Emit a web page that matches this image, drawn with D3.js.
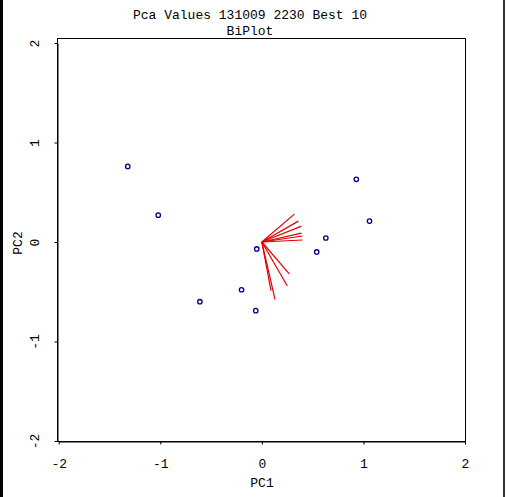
<!DOCTYPE html>
<html><head><meta charset="utf-8">
<script src="https://cdn.jsdelivr.net/npm/d3@7"></script>
<style>html,body{margin:0;padding:0;background:#fff;}svg{display:block;}</style>
</head><body>
<script>
// Scores (observations)
const pc1Scores = [-1.32, -1.02, -0.61, -0.20, -0.05, -0.06, 0.54, 0.63, 0.93, 1.06];
const pc2Scores = [0.76, 0.27, -0.60, -0.48, -0.07, -0.69, -0.10, 0.04, 0.63, 0.21];
// Loadings (variable arrows)
const loadPC1 = [0.32, 0.36, 0.39, 0.39, 0.40, 0.40, 0.27, 0.25, 0.09, 0.13];
const loadPC2 = [0.28, 0.21, 0.16, 0.09, 0.06, 0.02, -0.32, -0.44, -0.49, -0.58];
const tickValues = [-2, -1, 0, 1, 2];
const tickLabels = ["-2", "-1", "0", "1", "2"];
const titleLines = ["Pca Values 131009 2230 Best 10", "BiPlot"];
const xLabel = "PC1", yLabel = "PC2";

const W = 507, H = 497;
const font = "'Liberation Mono','Courier New',monospace";
const svg = d3.select("body").append("svg").attr("width", W).attr("height", H);
svg.append("rect").attr("width", W).attr("height", H).attr("fill", "#fff");
// window frame edges
svg.append("rect").attr("x", 0).attr("y", 0).attr("width", 3).attr("height", H).attr("fill", "#000");
svg.append("rect").attr("x", 503).attr("y", 0).attr("width", 2).attr("height", H).attr("fill", "#333");

const x = d3.scaleLinear().domain([-2, 2]).range([58.7, 465]);
const y = d3.scaleLinear().domain([-2, 2]).range([441, 43]);

// box
svg.append("rect").attr("x", 57.5).attr("y", 38.5).attr("width", 408).attr("height", 403)
  .attr("fill", "none").attr("stroke", "#000").attr("stroke-width", 1);

const fmt = (d) => tickLabels[tickValues.indexOf(d)];
const xAxis = svg.append("g").attr("transform", "translate(0,441.5)")
  .call(d3.axisBottom(x).tickValues(tickValues).tickFormat(fmt).tickSize(3).tickSizeOuter(0).tickPadding(14));
const yAxis = svg.append("g").attr("transform", "translate(57.5,0)")
  .call(d3.axisLeft(y).tickValues(tickValues).tickFormat(fmt).tickSize(3).tickSizeOuter(0));
[xAxis, yAxis].forEach(g => {
  g.select(".domain").attr("stroke", "#000");
  g.selectAll("line").attr("stroke", "#000");
  g.selectAll("text").attr("font-family", font).attr("font-size", 13).attr("fill", "#000");
});
yAxis.selectAll("text").attr("transform", "rotate(-90)").attr("x", 0).attr("y", -23)
  .attr("dy", "0.35em").attr("text-anchor", "middle");

// titles
svg.selectAll(".title").data(titleLines).enter().append("text")
  .attr("x", 250).attr("y", (d, i) => 19 + i * 16).attr("text-anchor", "middle")
  .attr("font-family", font).attr("font-size", 13).text(d => d);
svg.append("text").attr("x", 262).attr("y", 487).attr("text-anchor", "middle")
  .attr("font-family", font).attr("font-size", 13).text(xLabel);
svg.append("text").attr("transform", "translate(22,243) rotate(-90)").attr("text-anchor", "middle")
  .attr("font-family", font).attr("font-size", 13).text(yLabel);

// loadings
svg.selectAll(".load").data(loadPC1).enter().append("line")
  .attr("x1", x(0)).attr("y1", y(0))
  .attr("x2", d => x(d)).attr("y2", (d, i) => y(loadPC2[i]))
  .attr("stroke", "#e00000").attr("stroke-width", 1.2);

// scores
svg.selectAll(".pt").data(pc1Scores).enter().append("circle")
  .attr("cx", d => x(d)).attr("cy", (d, i) => y(pc2Scores[i])).attr("r", 2.2)
  .attr("fill", "none").attr("stroke", "#00008b").attr("stroke-width", 1.3);
</script>
</body></html>
